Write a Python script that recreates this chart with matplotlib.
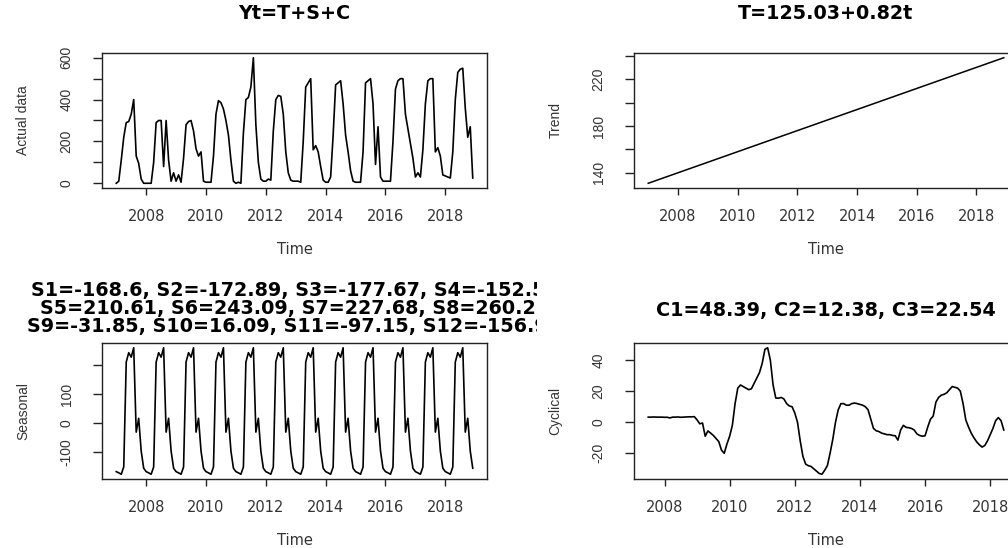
import numpy as np
import matplotlib
matplotlib.use("Agg")
import matplotlib.pyplot as plt
from matplotlib.transforms import Bbox, TransformedBbox
from matplotlib.ticker import FixedLocator, FuncFormatter

plt.rcParams['font.family'] = ['DejaVu Sans']
plt.rcParams['axes.unicode_minus'] = False

# ---------------- data ----------------
start_year = 2007
actual_data = [
    0, 10, 110, 220, 290, 295, 330, 400, 130, 95, 20, 0,        # 2007
    0, 0, 0, 100, 290, 300, 300, 80, 300, 110, 10, 50,          # 2008
    10, 40, 5, 120, 280, 295, 300, 250, 165, 130, 150, 10,      # 2009
    5, 5, 5, 130, 330, 395, 385, 355, 300, 230, 110, 10,        # 2010
    0, 5, 0, 240, 400, 410, 460, 600, 280, 100, 20, 10,         # 2011
    10, 20, 15, 250, 400, 420, 415, 330, 150, 50, 15, 10,       # 2012
    10, 10, 5, 200, 460, 480, 500, 160, 180, 150, 80, 15,       # 2013
    5, 5, 30, 230, 470, 480, 490, 380, 230, 150, 60, 10,        # 2014
    5, 5, 5, 150, 480, 490, 500, 380, 90, 270, 30, 10,          # 2015
    10, 10, 10, 200, 450, 490, 500, 500, 330, 260, 190, 120,    # 2016
    30, 50, 30, 160, 380, 490, 500, 500, 150, 170, 130, 40,     # 2017
    35, 30, 25, 150, 400, 530, 545, 550, 360, 220, 270, 25,     # 2018
]

trend_title = "T=125.03+0.82t"
trend_start = 130.9
trend_end = 238.5

seasonal_12 = [-168.6, -172.89, -177.67, -152.5, 210.61, 243.09,
               227.68, 260.21, -31.85, 16.09, -97.15, -156.9]
seasonal_title = ["S1=-168.6, S2=-172.89, S3=-177.67, S4=-152.55",
                  "S5=210.61, S6=243.09, S7=227.68, S8=260.21",
                  "S9=-31.85, S10=16.09, S11=-97.15, S12=-156.95"]

cyc_start = 2007.5
cyclical = [
    3.3, 3.3, 3.4, 3.3, 3.3, 3.3,                                   # 2007 Jul-Dec
    3.2, 3.2, 2.8, 3.3, 3.3, 3.4, 3.2, 3.3, 3.4, 3.5, 3.5, 3.6,     # 2008
    1.5, -1, -0.5, -9, -5.6, -7, -8.5, -10.5, -12.5, -18, -20, -14, # 2009
    -9, -2, 12, 22, 24, 23, 22, 21, 21.5, 25, 28.5, 32,             # 2010
    38, 47, 48, 40, 24, 15.6, 15.5, 16, 15, 12, 10.5, 10,           # 2011
    6, 0, -12, -22, -27, -28, -28.5, -30, -31.5, -33, -33.5, -31,   # 2012
    -28, -20, -11, 0, 8, 12, 12, 11, 11, 12, 12.4, 12,              # 2013
    11.5, 11, 10, 8, 2, -4, -5.5, -6, -7, -7.5, -8, -8,             # 2014
    -8.5, -8.7, -11.5, -5, -2, -3.3, -3.5, -4, -5, -7.5, -8.5, -9,  # 2015
    -8.7, -3, 2, 4, 13, 16, 17.5, 18, 19, 21, 23, 22.5,             # 2016
    22, 20, 12, 1.5, -3, -7, -10, -12.6, -14.5, -16, -15, -12,      # 2017
    -8, -4, 1, 3, 1, -5,                                            # 2018 Jan-Jun
]
cyc_title = "C1=48.39, C2=12.38, C3=22.54"

x_ticks = [2008, 2010, 2012, 2014, 2016, 2018]

# ---------------- figure ----------------
W, H = 1008, 548
fig = plt.figure(figsize=(W / 100, H / 100), dpi=100)
fig.patch.set_facecolor('white')

TXT = '#333333'
TITLE_SIZE = 13.8


def add_ax(x0, y0, x1, y1):
    return fig.add_axes([x0 / W, 1 - y1 / H, (x1 - x0) / W, (y1 - y0) / H])


def r_lim(vals):
    lo, hi = float(np.min(vals)), float(np.max(vals))
    d = 0.04 * (hi - lo)
    return lo - d, hi + d


def style(ax, yticks, ylabels_shown, ylabel):
    for s in ax.spines.values():
        s.set_linewidth(1.0)
        s.set_color('#222222')
    ax.xaxis.set_major_locator(FixedLocator(x_ticks))
    ax.yaxis.set_major_locator(FixedLocator(yticks))
    ax.yaxis.set_major_formatter(FuncFormatter(
        lambda v, p: (str(int(round(v))) if int(round(v)) in ylabels_shown else '')))
    ax.tick_params(axis='x', direction='out', length=5, width=1.0,
                   color='#222222', labelsize=10.5, labelcolor=TXT, pad=10)
    ax.tick_params(axis='y', direction='out', length=6.5, width=1.0,
                   color='#222222', labelsize=10, labelcolor=TXT, pad=14)
    for lab in ax.get_yticklabels():
        lab.set_rotation(90)
        lab.set_va('center')
        lab.set_family('Liberation Sans')
    ax.set_xlabel('Time', fontsize=10.5, color=TXT, labelpad=13)
    ax.set_ylabel(ylabel, fontsize=10, color=TXT, labelpad=21,
                  family='Liberation Sans')


# Panel 1: actual data
t_full = start_year + np.arange(len(actual_data)) / 12.0
ax1 = add_ax(102, 52.7, 487, 188.3)
ax1.plot(t_full, actual_data, color='black', lw=1.2)
ax1.set_xlim(*r_lim(t_full))
ax1.set_ylim(*r_lim(actual_data))
style(ax1, [0, 100, 200, 300, 400, 500, 600], [0, 200, 400, 600], 'Actual data')
ax1.set_title('Yt=T+S+C', fontsize=TITLE_SIZE, fontweight='bold', pad=24)

# Panel 2: trend
ax2 = add_ax(634, 52.7, 1018, 188.3)
ax2.plot([t_full[0], t_full[-1]], [trend_start, trend_end], color='black', lw=1.1)
ax2.set_xlim(*r_lim(t_full))
ax2.set_ylim(*r_lim([trend_start, trend_end]))
style(ax2, [140, 160, 180, 200, 220, 240], [140, 180, 220], 'Trend')
ax2.set_title(trend_title, fontsize=TITLE_SIZE, fontweight='bold', pad=24)

# Panel 3: seasonal
seasonal = np.tile(seasonal_12, len(actual_data) // 12)
ax3 = add_ax(102, 342.7, 487, 479.3)
ax3.plot(t_full, seasonal, color='black', lw=1.2)
ax3.set_xlim(*r_lim(t_full))
ax3.set_ylim(*r_lim(seasonal))
style(ax3, [-100, 0, 100, 200], [-100, 0, 100], 'Seasonal')
clip = TransformedBbox(Bbox([[0, 0], [537 / W, 1]]), fig.transFigure)
cx = ((102 + 487) / 2) / W
for i, line in enumerate(seasonal_title):
    y = 1 - (290.5 + 18 * i) / H
    t = fig.text(cx, y, line, ha='center', va='center', fontsize=TITLE_SIZE,
                 fontweight='bold')
    t.set_clip_box(clip)
    t.set_clip_on(True)

# Panel 4: cyclical
t_cyc = cyc_start + np.arange(len(cyclical)) / 12.0
ax4 = add_ax(634, 342.7, 1018, 479.3)
ax4.plot(t_cyc, cyclical, color='black', lw=1.2)
ax4.set_xlim(*r_lim(t_cyc))
ax4.set_ylim(*r_lim(cyclical))
style(ax4, [-20, 0, 20, 40], [-20, 0, 20, 40], 'Cyclical')
ax4.set_title(cyc_title, fontsize=TITLE_SIZE, fontweight='bold', pad=19)

fig.savefig('out.png', dpi=100)
